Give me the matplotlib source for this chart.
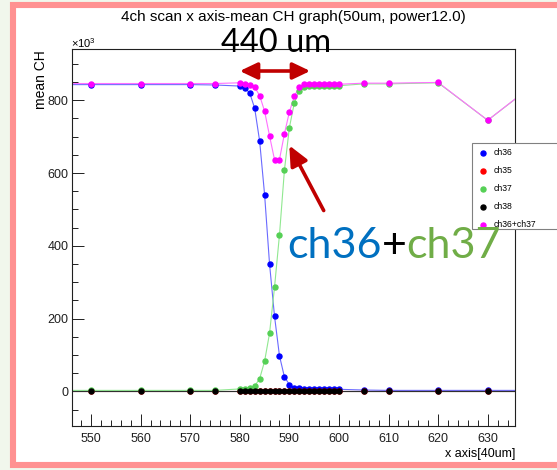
import matplotlib

matplotlib.use("Agg")

import matplotlib.pyplot as plt
from matplotlib.lines import Line2D
from matplotlib.patches import FancyArrowPatch, Rectangle
from matplotlib.ticker import MultipleLocator

plt.rcParams["font.family"] = ["Liberation Sans", "DejaVu Sans"]
plt.rcParams["mathtext.fontset"] = "custom"
plt.rcParams["mathtext.rm"] = "Liberation Sans"

W, H = 557, 470

# scan positions (x axis, 40um steps) and mean CH values (x10^3)
xpos = [540, 550, 560, 570, 575,
        580, 581, 582, 583, 584, 585, 586, 587, 588, 589, 590,
        591, 592, 593, 594, 595, 596, 597, 598, 599, 600,
        605, 610, 620, 630, 640]

ch36 = [843, 843, 843, 843, 842,
        839, 834, 820, 778, 688, 541, 350, 207, 98, 40, 19,
        10, 9, 8, 8, 7, 7, 6, 6, 6, 6,
        4, 3, 3, 3, 3]
ch35 = [1] * len(xpos)
ch37 = [3, 3, 3, 3, 3,
        7, 8, 10, 15, 35, 83, 160, 286, 430, 608, 725,
        793, 826, 836, 838, 839, 839, 840, 840, 840, 840,
        845, 845, 848, 745, 850]
ch38 = [0] * len(xpos)
ch36_37 = [846, 846, 846, 846, 846,
           848, 846, 843, 836, 813, 770, 702, 637, 637, 708, 768,
           811, 837, 844, 844, 844, 844, 844, 844, 844, 844,
           847, 847, 849, 745, 851]

series = [
    ("ch36", ch36, "#0000ff", "#6a6aff"),
    ("ch35", ch35, "#ff0000", "#b04040"),
    ("ch37", ch37, "#55d055", "#90e890"),
    ("ch38", ch38, "#000000", "#303030"),
    ("ch36+ch37", ch36_37, "#ff00ff", "#ff70ff"),
]


def px(x, y):
    # pixel position (from top-left) -> figure fraction
    return x / W, 1 - y / H


fig = plt.figure(figsize=(W / 100, H / 100), dpi=100)
fig.patch.set_facecolor("#f1f7ec")
fig.add_artist(Rectangle(px(13, 465), 600 / W, 460 / H, transform=fig.transFigure,
                         facecolor="white", edgecolor="#ff9191", linewidth=4.4, zorder=-10))

ax = fig.add_axes([71.7 / W, 1 - 425.7 / H, (515 - 71.7) / W, (425.7 - 49.3) / H])
ax.set_facecolor("white")

for name, vals, mcol, lcol in series:
    ax.plot(xpos, vals, color=lcol, linewidth=0.8, zorder=2)
    ax.plot(xpos, vals, linestyle="none", marker="o", markersize=3.6,
            markerfacecolor=mcol, markeredgecolor=mcol, zorder=3)

ax.set_xlim(546.1, 635.5)
ax.set_ylim(-94, 940)
ax.set_xticks(range(550, 640, 10))
ax.set_yticks(range(0, 900, 200))
ax.xaxis.set_minor_locator(MultipleLocator(2))
ax.yaxis.set_minor_locator(MultipleLocator(50))
ax.tick_params(which="both", direction="in", top=False, right=False,
               colors="#202020", labelsize=9)
ax.tick_params(which="major", length=8.6, width=0.7)
ax.tick_params(which="minor", length=4.3, width=0.7)
ax.tick_params(axis="x", pad=5)
ax.tick_params(axis="y", pad=2.5)
for sp in ax.spines.values():
    sp.set_linewidth(0.8)
    sp.set_color("#202020")

fig.text(*px(293, 17), "4ch scan x axis-mean CH graph(50um, power12.0)",
         ha="center", va="center", fontsize=11)
fig.text(*px(515, 454), "x axis[40um]", ha="right", va="center", fontsize=9)
fig.text(*px(41, 50), "mean CH", ha="center", va="top", rotation=90, fontsize=10)
fig.text(*px(71, 43), r"$\times$10$^{3}$", ha="left", va="center", fontsize=8)

# legend box (runs past the right edge)
fig.add_artist(Rectangle(px(471.7, 229.3), 150 / W, 86 / H, transform=fig.transFigure,
                         facecolor="white", edgecolor="#808080", linewidth=0.8, zorder=5))
for i, (name, vals, mcol, lcol) in enumerate(series):
    yy = 152.7 + 18 * i
    fig.add_artist(Line2D([482.7 / W], [1 - yy / H], transform=fig.transFigure,
                          marker="o", markersize=3.6, color=mcol, zorder=6))
    fig.text(*px(494, yy), name, ha="left", va="center", fontsize=6.2, zorder=6)

# slide annotations
red = "#c00000"
fig.text(*px(276, 43), "440 um", ha="center", va="center", fontsize=23.5,
         family=["Lato", "DejaVu Sans"], zorder=7)
fig.add_artist(FancyArrowPatch(px(237, 71), px(313, 71), transform=fig.transFigure,
                               arrowstyle="<|-|>,head_length=10.5,head_width=5",
                               mutation_scale=1, color=red, linewidth=2.6, zorder=7))
fig.add_artist(FancyArrowPatch(px(325, 213), px(288, 143), transform=fig.transFigure,
                               arrowstyle="-|>,head_length=12,head_width=5.5",
                               mutation_scale=1, color=red, linewidth=2.6, zorder=7))

fig.canvas.draw()
renderer = fig.canvas.get_renderer()
xcur = 287
for txt, col in [("ch36", "#0070c0"), ("+", "#000000"), ("ch37", "#70ad47")]:
    t = fig.text(*px(xcur, 258), txt, ha="left", va="baseline", fontsize=31,
                 color=col, family=["Lato", "DejaVu Sans"], zorder=7)
    bb = t.get_window_extent(renderer)
    xcur += bb.width

fig.savefig("out.png", dpi=100, facecolor=fig.get_facecolor())
